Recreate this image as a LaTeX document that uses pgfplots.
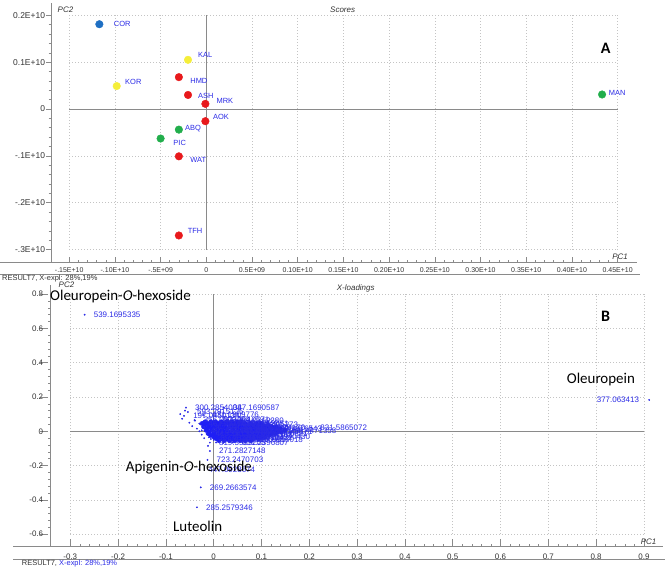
\documentclass[border=0pt]{standalone}
\usepackage{fontspec}
\setmainfont{Liberation Sans}
\newfontfamily\calib{Carlito}
\usepackage{pgfplots}
\pgfplotsset{compat=1.18}
\definecolor{cblue}{HTML}{1E6FC3}
\definecolor{cyellow}{HTML}{F5EE3A}
\definecolor{cred}{HTML}{E8191C}
\definecolor{cgreen}{HTML}{22AE4C}
\definecolor{lblue}{HTML}{2B2BE6}
\definecolor{blob}{HTML}{1E1EF5}
\definecolor{axgray}{HTML}{8A8A8A}
\definecolor{gridgray}{HTML}{C4C4C4}
\definecolor{ticktext}{HTML}{333333}
\pgfplotsset{
 pcabase/.style={
  scale only axis, axis x line=bottom, axis y line=left,
  axis line style={-, axgray, line width=0.8bp},
  every tick/.style={axgray, line width=0.5bp},
  tick align=center, major tick length=5bp, minor tick length=2.5bp,
  major x tick style={yshift=2.5bp}, minor x tick style={yshift=1.25bp},
  major y tick style={xshift=-2.5bp}, minor y tick style={xshift=-1.25bp},
  minor x tick num=4, minor y tick num=4,
  clip=false,
  tick label style={text=ticktext},
 },
 toplbl/.style={only marks, mark=*, mark size=3.8bp,
  nodes near coords, point meta=explicit symbolic,
  visualization depends on={\thisrow{dx} \as \dx},
  visualization depends on={\thisrow{dy} \as \dy},
  nodes near coords align={anchor=west},
  every node near coord/.append style={xshift=\dx bp, yshift=\dy bp, inner sep=0pt,
    font=\fontsize{7.5}{8}\selectfont, text=lblue}},
 botlbl/.style={only marks, mark=*, mark size=0.7bp, lblue,
  nodes near coords, point meta=explicit symbolic,
  nodes near coords align={anchor=west},
  every node near coord/.append style={xshift=9bp, inner sep=0pt,
    font=\fontsize{8}{8}\selectfont, text=lblue}},
}
\tikzset{gridl/.style={gridgray, line width=0.5bp, dash pattern=on 1bp off 2bp}}
\begin{document}
\begin{tikzpicture}
% ---------------- Panel A: Scores ----------------
\begin{axis}[pcabase,
  at={(51bp,-262bp)}, anchor=south west,
  width=586bp, height=259bp,
  xmin=-1.699, xmax=4.712, ymin=-3.266, ymax=2.263,
  xtick={-1.5,-1,-0.5,0,0.5,1,1.5,2,2.5,3,3.5,4,4.5},
  xticklabels={-.15E+10,-.10E+10,-.5E+09,0,0.5E+09,0.10E+10,0.15E+10,0.20E+10,0.25E+10,0.30E+10,0.35E+10,0.40E+10,0.45E+10},
  ytick={-3,-2,-1,0,1,2},
  yticklabels={-.3E+10,-.2E+10,-.1E+10,0,0.1E+10,0.2E+10},
  xticklabel style={font=\fontsize{7}{8}\selectfont},
  yticklabel style={font=\fontsize{8.5}{9}\selectfont},
]
\pgfplotsinvokeforeach{-1.5,-1,-0.5,0.5,1,1.5,2,2.5,3,3.5,4,4.5}{\draw[gridl] (axis cs:#1,-3) -- (axis cs:#1,2);}
\pgfplotsinvokeforeach{-3,-2,-1,1,2}{\draw[gridl] (axis cs:-1.5,#1) -- (axis cs:4.5,#1);}
\draw[axgray, line width=0.8bp] (axis cs:0,-3) -- (axis cs:0,2);
\draw[axgray, line width=0.8bp] (axis cs:-1.5,0) -- (axis cs:4.5,0);
\addplot[toplbl, color=cblue] table[meta=label] {
x y dx dy label
-1.17 1.81 14.4 0.3 COR
};
\addplot[toplbl, color=cyellow] table[meta=label] {
x y dx dy label
-0.20 1.05 10.0 4.7 KAL
-0.98 0.49 8.3 4.0 KOR
};
\addplot[toplbl, color=cred] table[meta=label] {
x y dx dy label
-0.30 0.68 11.3 -4.0 HMD
-0.20 0.30 10.0 -0.7 ASH
-0.01 0.11 11.0 2.7 MRK
-0.01 -0.26 7.6 4.0 AOK
-0.30 -1.01 11.3 -3.7 WAT
-0.30 -2.70 8.7 4.3 TFH
};
\addplot[toplbl, color=cgreen] table[meta=label] {
x y dx dy label
-0.30 -0.44 6.0 0.7 ABQ
-0.50 -0.63 12.7 -4.3 PIC
4.33 0.31 6.6 1.7 MAN
};
\end{axis}
% ---------------- Panel B: X-loadings ----------------
\begin{axis}[pcabase,
  at={(50.7bp,-546.7bp)}, anchor=south west,
  width=612.3bp, height=261.7bp,
  xmin=-0.341, xmax=0.940, ymin=-0.673, ymax=0.853,
  xtick={-0.3,-0.2,-0.1,0,0.1,0.2,0.3,0.4,0.5,0.6,0.7,0.8,0.9},
  xticklabels={-0.3,-0.2,-0.1,0,0.1,0.2,0.3,0.4,0.5,0.6,0.7,0.8,0.9},
  ytick={-0.6,-0.4,-0.2,0,0.2,0.4,0.6,0.8},
  yticklabels={-0.6,-0.4,-0.2,0,0.2,0.4,0.6,0.8},
  tick label style={font=\fontsize{8}{9}\selectfont},
  major y tick style={xshift=-4bp}, major tick length=8bp,
  major x tick style={yshift=1.5bp},
]
\pgfplotsinvokeforeach{-0.3,-0.2,-0.1,0.1,0.2,0.3,0.4,0.5,0.6,0.7,0.8,0.9}{\draw[gridl] (axis cs:#1,-0.6) -- (axis cs:#1,0.8);}
\pgfplotsinvokeforeach{-0.6,-0.4,-0.2,0.2,0.4,0.6,0.8}{\draw[gridl] (axis cs:-0.3,#1) -- (axis cs:0.9,#1);}
\draw[axgray, line width=0.8bp] (axis cs:0,-0.6) -- (axis cs:0,0.8);
\draw[axgray, line width=0.8bp] (axis cs:-0.3,0) -- (axis cs:0.9,0);
% dense core of the loadings cloud
\addplot[only marks, mark=*, mark size=2.2bp, blob] table {
x y
-0.018 0.055
-0.006 0.055
0.004 0.055
0.016 0.055
0.027 0.055
0.038 0.055
0.049 0.055
0.058 0.055
-0.024 0.046
-0.013 0.046
-0.002 0.046
0.009 0.046
0.021 0.046
0.031 0.046
0.043 0.046
0.054 0.046
0.066 0.046
0.077 0.046
0.089 0.046
0.098 0.046
-0.019 0.036
-0.008 0.036
0.003 0.036
0.014 0.036
0.024 0.036
0.036 0.036
0.047 0.036
0.058 0.036
0.069 0.036
0.081 0.036
0.092 0.036
0.103 0.036
0.114 0.036
-0.021 0.026
-0.010 0.026
0.001 0.026
0.012 0.026
0.023 0.026
0.034 0.026
0.044 0.026
0.056 0.026
0.067 0.026
0.078 0.026
0.088 0.026
0.099 0.026
0.111 0.026
0.122 0.026
0.131 0.026
-0.014 0.016
-0.003 0.016
0.008 0.016
0.019 0.016
0.029 0.016
0.041 0.016
0.052 0.016
0.063 0.016
0.074 0.016
0.085 0.016
0.096 0.016
0.107 0.016
0.118 0.016
0.129 0.016
0.139 0.016
-0.016 0.006
-0.005 0.006
0.006 0.006
0.017 0.006
0.028 0.006
0.039 0.006
0.050 0.006
0.061 0.006
0.072 0.006
0.083 0.006
0.094 0.006
0.105 0.006
0.116 0.006
0.127 0.006
0.138 0.006
0.149 0.006
-0.010 -0.004
0.001 -0.004
0.012 -0.004
0.023 -0.004
0.034 -0.004
0.045 -0.004
0.056 -0.004
0.067 -0.004
0.078 -0.004
0.089 -0.004
0.100 -0.004
0.111 -0.004
0.122 -0.004
0.133 -0.004
0.141 -0.004
-0.011 -0.014
0.000 -0.014
0.011 -0.014
0.022 -0.014
0.033 -0.014
0.044 -0.014
0.055 -0.014
0.066 -0.014
0.077 -0.014
0.088 -0.014
0.099 -0.014
0.110 -0.014
0.121 -0.014
0.129 -0.014
-0.006 -0.024
0.005 -0.024
0.016 -0.024
0.027 -0.024
0.038 -0.024
0.049 -0.024
0.060 -0.024
0.071 -0.024
0.082 -0.024
0.093 -0.024
0.104 -0.024
0.117 -0.024
0.001 -0.034
0.012 -0.034
0.023 -0.034
0.034 -0.034
0.045 -0.034
0.056 -0.034
0.067 -0.034
0.078 -0.034
0.089 -0.034
0.100 -0.034
0.108 -0.034
0.006 -0.044
0.017 -0.044
0.028 -0.044
0.039 -0.044
0.050 -0.044
0.061 -0.044
0.072 -0.044
0.083 -0.044
0.094 -0.044
0.011 -0.054
0.022 -0.054
0.033 -0.054
0.044 -0.054
0.055 -0.054
0.066 -0.054
0.078 -0.054
};
% scattered loadings
\addplot[only marks, mark=*, mark size=0.7bp, lblue] table {
x y
-0.066 0.073
-0.051 0.050
-0.039 0.062
-0.045 0.030
-0.035 0.015
-0.028 0.040
-0.030 0.000
-0.025 -0.020
-0.020 -0.040
-0.006 -0.045
-0.012 -0.085
0.005 -0.065
0.020 -0.068
0.060 -0.064
0.100 -0.048
0.160 -0.010
0.170 0.010
0.110 0.050
0.070 0.062
0.030 0.070
-0.070 0.100
-0.060 0.120
};
% labelled loadings
\addplot[botlbl] table[meta=label] {
x y label
-0.058 0.138 300.2854004
0.021 0.140 387.1690587
-0.054 0.112 593.2915125
-0.062 0.090 197.0450134
-0.022 0.095 431.1909776
0.017 0.048 577.2845934
0.204 0.023 831.5865072
0.140 0.005 755.4471358
0.110 0.012 623.1976543
0.090 -0.002 565.3049871
-0.040 0.065 355.0823364
0.000 0.065 609.2710571
0.030 0.062 289.0712280
-0.030 0.045 463.0877075
0.000 0.045 303.0499268
0.040 0.042 593.1512451
0.060 0.040 285.0405273
-0.020 0.025 317.0301514
0.010 0.025 447.3271484
0.045 0.022 625.1768188
0.075 0.020 489.1024170
-0.025 0.005 401.1584473
0.005 0.005 535.2013550
0.035 0.003 701.3361206
0.065 0.002 361.1283569
-0.015 -0.015 415.1613770
0.015 -0.015 255.2339783
0.050 -0.018 557.2191162
0.080 -0.015 683.2866821
-0.010 -0.035 327.2169495
0.020 -0.035 483.1657410
0.050 -0.038 611.1617432
0.085 -0.032 739.3940430
0.000 -0.050 293.1819458
0.035 -0.050 519.1390991
0.070 -0.048 377.0856018
-0.008 -0.066 819.3585205
0.040 -0.066 651.2396807
-0.008 -0.115 271.2827148
-0.013 -0.167 723.2470703
-0.030 -0.222 447.0928674
-0.027 -0.327 269.2663574
-0.035 -0.443 285.2579346
-0.270 0.680 539.1695335
};
\addplot[botlbl, every node near coord/.append style={anchor=east, xshift=-19bp}] table[meta=label] {
x y label
0.911 0.183 377.063413
};
\end{axis}
% ---------------- frame texts ----------------
\draw[axgray, line width=0.8bp] (0bp,-262bp) -- (51bp,-262bp);
\draw[axgray, line width=0.8bp] (0bp,-274bp) -- (640bp,-274bp);
\draw[axgray, line width=0.8bp] (13bp,-546.7bp) -- (50.7bp,-546.7bp);
\draw[axgray, line width=0.8bp] (13bp,-559.3bp) -- (665bp,-559.3bp);
\node[anchor=west, inner sep=0pt, font=\fontsize{8}{9}\selectfont\itshape, text=ticktext] at (330bp,-10bp) {Scores};
\node[inner sep=0pt, font=\fontsize{8}{9}\selectfont\itshape, text=ticktext] at (65.5bp,-10bp) {PC2};
\node[inner sep=0pt, font=\fontsize{8}{9}\selectfont\itshape, text=ticktext] at (620bp,-257bp) {PC1};
\node[inner sep=0pt, font=\calib\bfseries\fontsize{16}{16}\selectfont] at (605.7bp,-48bp) {A};
\node[anchor=west, inner sep=0pt, font=\fontsize{7.5}{8}\selectfont, text=ticktext] at (2bp,-278.5bp) {RESULT7, X-expl: 28\%,19\%};
\node[anchor=west, inner sep=0pt, font=\fontsize{8}{9}\selectfont\itshape, text=ticktext] at (336.7bp,-288bp) {X-loadings};
\node[inner sep=0pt, font=\fontsize{8}{9}\selectfont\itshape, text=ticktext] at (66.5bp,-285bp) {PC2};
\node[inner sep=0pt, font=\fontsize{8}{9}\selectfont\itshape, text=ticktext] at (648.5bp,-541.7bp) {PC1};
\node[inner sep=0pt, font=\calib\bfseries\fontsize{16}{16}\selectfont] at (605.7bp,-316bp) {B};
\node[anchor=west, inner sep=0pt, font=\fontsize{7.5}{8}\selectfont, text=ticktext] at (21.7bp,-564bp) {RESULT7, \textcolor{lblue}{X-expl: 28\%,19\%}};
\node[anchor=base west, inner sep=0pt, font=\calib\fontsize{15}{15}\selectfont] at (50bp,-300bp) {Oleuropein-\textit{O}-hexoside};
\node[anchor=base west, inner sep=0pt, font=\calib\fontsize{15}{15}\selectfont] at (125.7bp,-471bp) {Apigenin-\textit{O}-hexoside};
\node[anchor=base west, inner sep=0pt, font=\calib\fontsize{15}{15}\selectfont] at (173bp,-531.7bp) {Luteolin};
\node[anchor=base west, inner sep=0pt, font=\calib\fontsize{15}{15}\selectfont] at (566.7bp,-383bp) {Oleuropein};
\pgfresetboundingbox
\path[use as bounding box] (0bp,0bp) rectangle (668bp,-571bp);
\end{tikzpicture}
\end{document}
